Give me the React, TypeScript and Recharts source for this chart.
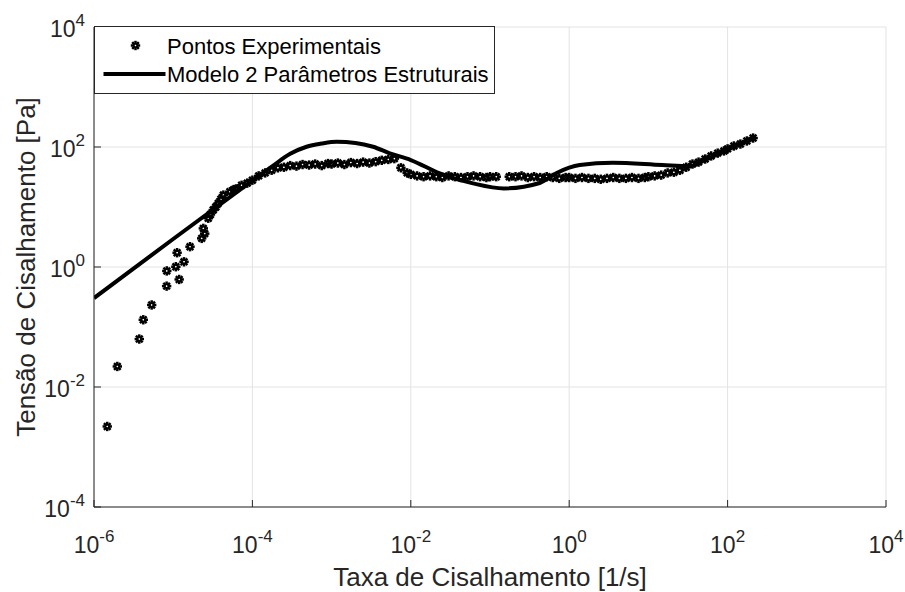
import React from "react";
import {
  ComposedChart,
  Line,
  Scatter,
  XAxis,
  YAxis,
  CartesianGrid,
} from "recharts";

// experimental points (shear rate [1/s], shear stress [Pa])
const expX = [
  1.47e-6, 1.97e-6, 3.73e-6, 4.19e-6, 5.35e-6, 8.26e-6, 8.3e-6, 1.08e-5, 1.12e-5, 1.19e-5,
  1.37e-5, 1.63e-5, 2.29e-5, 2.4e-5, 2.5e-5, 2.77e-5, 2.95e-5, 3.2e-5, 3.45e-5, 3.7e-5,
  4.0e-5, 4.3e-5, 5.2e-5, 5.8e-5, 6.2e-5, 7.3e-5, 8.6e-5,
  1.0e-4, 1.2e-4, 1.45e-4, 1.75e-4, 2.1e-4, 2.5e-4, 3.0e-4, 3.6e-4, 4.3e-4, 5.2e-4, 6.2e-4, 7.5e-4, 9.0e-4,
  1.0e-3, 1.2e-3, 1.45e-3, 1.75e-3, 2.1e-3, 2.5e-3, 3.0e-3, 3.6e-3, 4.3e-3, 5.2e-3, 6.2e-3, 7.5e-3, 9.0e-3,
  1.0e-2, 1.2e-2, 1.45e-2, 1.75e-2, 2.1e-2, 2.5e-2, 3.0e-2, 3.6e-2, 4.3e-2, 5.2e-2, 6.2e-2, 7.5e-2, 9.0e-2,
  0.1, 0.12, 0.175, 0.21, 0.25, 0.3, 0.36, 0.43, 0.52, 0.62, 0.75, 0.9,
  1.0, 1.2, 1.45, 1.75, 2.1, 2.5, 3.0, 3.6, 4.3, 5.2, 6.2, 7.5, 9.0,
  10, 12, 14.5, 17.5, 21, 25, 30, 36, 43, 52, 62, 75, 90,
  100, 120, 145, 175, 210,
];
const expY = [
  0.0022, 0.022, 0.063, 0.132, 0.233, 0.48, 0.86, 1.01, 1.73, 0.62,
  1.22, 2.18, 3.0, 4.4, 3.6, 6.5, 7.5, 8.9, 10, 11.5,
  13.5, 15.8, 18, 19.5, 20, 23, 25,
  28, 33, 37, 41, 45, 46, 49, 48, 51, 50, 52, 49, 53,
  52, 54, 51, 55, 53, 56, 54, 57, 60, 62, 64, 45, 37,
  35, 33, 32, 33, 32, 31, 33, 32, 31, 32, 33, 32, 31,
  32, 32, 32, 32, 33, 31, 32, 31, 32, 31, 30, 31,
  31, 30, 31, 30, 30, 29, 30, 31, 30, 30, 31, 30, 31,
  32, 33, 34, 37, 38, 41, 46, 52, 56, 63, 71, 79, 86,
  93, 104, 112, 126, 141,
];

// model with 2 structural parameters
const modelX = [
  1e-6, 1e-5, 1e-4, 1.83e-4, 3e-4, 4.83e-4, 7.5e-4, 1.16e-3, 2e-3, 3.34e-3, 5.43e-3,
  1e-2, 2.32e-2, 6.1e-2, 0.15, 0.424, 0.695, 1.36, 3.54, 15.1, 33.2, 51.3, 97.2, 219,
];
const modelY = [
  0.304, 2.93, 27.4, 49, 77, 101, 114, 122, 117, 101, 78.5,
  60.7, 36.5, 24.8, 20.4, 25.1, 36.9, 50, 54.7, 50, 48, 60.7, 89, 147,
];

const xTicks = [1e-6, 1e-4, 1e-2, 1, 1e2, 1e4];
const yTicks = [1e-4, 1e-2, 1, 1e2, 1e4];

const expData = expX.map((x, i) => ({ x, y: expY[i] }));
const modelData = modelX.map((x, i) => ({ x, y: modelY[i] }));

const FONT = "'Liberation Sans', Arial, Helvetica, sans-serif";
const TXT = "#262626";
const TICK = 7;

const expOf = (v: number) => String(Math.round(Math.log10(v)));

// MATLAB-like '*' marker
function Star({ cx, cy }: any) {
  if (cx == null || cy == null) return null;
  const r0 = 0.9;
  const r1 = 4.7;
  const angles = [0, 45, 90, 135, 180, 225, 270, 315];
  return (
    <g>
      {angles.map((a) => {
        const t = (a * Math.PI) / 180;
        return (
          <line
            key={a}
            x1={cx + r0 * Math.cos(t)}
            y1={cy + r0 * Math.sin(t)}
            x2={cx + r1 * Math.cos(t)}
            y2={cy + r1 * Math.sin(t)}
            stroke="#000"
            strokeWidth={2.5}
          />
        );
      })}
    </g>
  );
}

function BottomTick({ x, y, payload }: any) {
  return (
    <g>
      <line x1={x} y1={y} x2={x} y2={y - TICK} stroke={TXT} strokeWidth={1} />
      <text x={x} y={y + 46} textAnchor="middle" fill={TXT} fontFamily={FONT} fontSize={23}>
        <tspan>10</tspan>
        <tspan dy={-11} fontSize={17}>{expOf(payload.value)}</tspan>
      </text>
    </g>
  );
}

function LeftTick({ x, y, payload }: any) {
  return (
    <g>
      <line x1={x} y1={y} x2={x + TICK} y2={y} stroke={TXT} strokeWidth={1} />
      <text x={x - 9} y={y + 10} textAnchor="end" fill={TXT} fontFamily={FONT} fontSize={23}>
        <tspan>10</tspan>
        <tspan dy={-11} fontSize={17}>{expOf(payload.value)}</tspan>
      </text>
    </g>
  );
}

function TopTick({ x, y }: any) {
  return <line x1={x} y1={y} x2={x} y2={y + TICK} stroke={TXT} strokeWidth={1} />;
}

function RightTick({ x, y }: any) {
  return <line x1={x} y1={y} x2={x - TICK} y2={y} stroke={TXT} strokeWidth={1} />;
}

function XLabel({ viewBox }: any) {
  if (!viewBox) return null;
  return (
    <text x={viewBox.x + viewBox.width / 2} y={viewBox.y + 79} textAnchor="middle" fill={TXT} fontFamily={FONT} fontSize={26}>
      Taxa de Cisalhamento [1/s]
    </text>
  );
}

function YLabel({ viewBox }: any) {
  if (!viewBox) return null;
  const cx = 35;
  const cy = viewBox.y + viewBox.height / 2;
  return (
    <text x={cx} y={cy} textAnchor="middle" fill={TXT} fontFamily={FONT} fontSize={26} transform={`rotate(-90, ${cx}, ${cy})`}>
      Tensão de Cisalhamento [Pa]
    </text>
  );
}

function LegendBox() {
  return (
    <svg
      width={402}
      height={70}
      style={{ position: "absolute", left: 93.5, top: 26, overflow: "visible" }}
    >
      <rect x={0.5} y={0.5} width={400} height={67} fill="#fff" stroke={TXT} strokeWidth={1} />
      <Star cx={41.5} cy={19.5} />
      <text x={73} y={28} fill="#000" fontFamily={FONT} fontSize={22}>
        Pontos Experimentais
      </text>
      <line x1={9.5} y1={48} x2={71.5} y2={48} stroke="#000" strokeWidth={4} />
      <text x={73} y={56} fill="#000" fontFamily={FONT} fontSize={22}>
        Modelo 2 Parâmetros Estruturais
      </text>
    </svg>
  );
}

export default function App() {
  return (
    <div style={{ position: "absolute", left: 0, top: 0, width: 905, height: 592, background: "#fff" }}>
      <ComposedChart
        width={905}
        height={592}
        margin={{ top: 27, right: 19, bottom: 0, left: 0 }}
      >
        <CartesianGrid stroke="#e3e3e3" strokeWidth={1} />
        <XAxis
          dataKey="x"
          type="number"
          scale="log"
          domain={[1e-6, 1e4]}
          ticks={xTicks}
          allowDataOverflow
          height={85}
          tickSize={0}
          tickMargin={0}
          tick={<BottomTick />}
          axisLine={{ stroke: TXT, strokeWidth: 1 }}
          tickLine={false}
          interval={0}
          label={<XLabel />}
        />
        <XAxis
          xAxisId="top"
          orientation="top"
          dataKey="x"
          type="number"
          scale="log"
          domain={[1e-6, 1e4]}
          ticks={xTicks}
          allowDataOverflow
          height={0}
          tickSize={0}
          tickMargin={0}
          tick={<TopTick />}
          axisLine={{ stroke: TXT, strokeWidth: 1 }}
          tickLine={false}
          interval={0}
        />
        <YAxis
          dataKey="y"
          type="number"
          scale="log"
          domain={[1e-4, 1e4]}
          ticks={yTicks}
          allowDataOverflow
          width={94}
          tickSize={0}
          tickMargin={0}
          tick={<LeftTick />}
          axisLine={{ stroke: TXT, strokeWidth: 1 }}
          tickLine={false}
          interval={0}
          label={<YLabel />}
        />
        <YAxis
          yAxisId="right"
          orientation="right"
          dataKey="y"
          type="number"
          scale="log"
          domain={[1e-4, 1e4]}
          ticks={yTicks}
          allowDataOverflow
          width={0}
          tickSize={0}
          tickMargin={0}
          tick={<RightTick />}
          axisLine={{ stroke: TXT, strokeWidth: 1 }}
          tickLine={false}
          interval={0}
        />
        <Line
          data={modelData}
          dataKey="y"
          type="monotone"
          stroke="#000"
          strokeWidth={4}
          dot={false}
          activeDot={false}
          isAnimationActive={false}
          name="Modelo 2 Parâmetros Estruturais"
        />
        <Scatter
          data={expData}
          dataKey="y"
          shape={<Star />}
          isAnimationActive={false}
          name="Pontos Experimentais"
        />
      </ComposedChart>
      <LegendBox />
    </div>
  );
}
